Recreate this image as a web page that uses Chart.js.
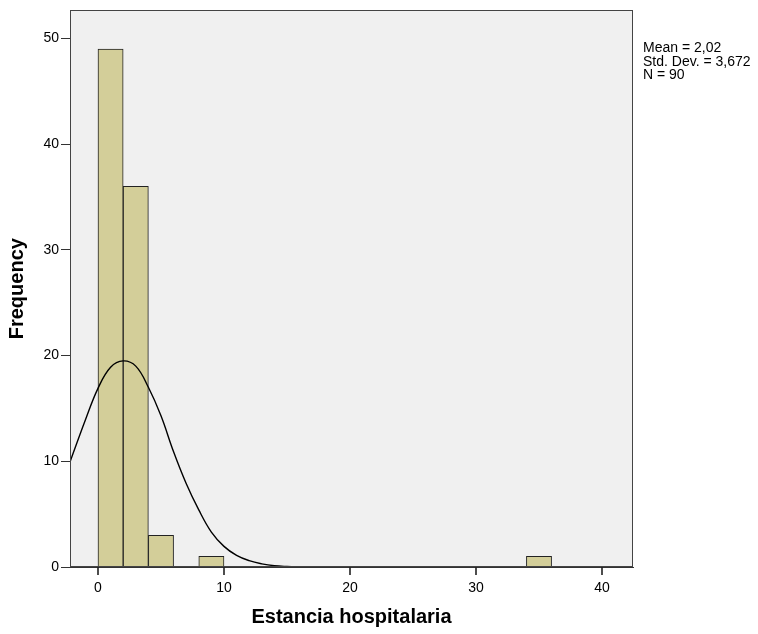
<!DOCTYPE html>
<html>
<head>
<meta charset="utf-8">
<script src="https://cdn.jsdelivr.net/npm/chart.js@4"></script>
<style>
html,body{margin:0;padding:0;background:#fff;}
#wrap{width:758px;height:634px;position:relative;}
</style>
</head>
<body>
<div id="wrap"><canvas id="c" width="758" height="634"></canvas></div>
<script>
// Histogram bins (centres, width 2) and frequencies
const binCenters = [1, 3, 5, 9, 35];
const frequencies = [49, 36, 3, 1, 1];
// Normal curve
const curveX = [-2.2, -1, 0, 1, 2, 3, 4, 5, 6, 7, 8, 9, 10, 11, 12, 13, 14, 15, 16, 17, 18, 20, 43];
const curveY = [10.0, 13.9, 16.9, 18.9, 19.5, 19.0, 17.0, 14.3, 10.9, 7.9, 5.4, 3.3, 1.95, 1.1, 0.6, 0.3, 0.12, 0.05, 0.02, 0.005, 0, 0, 0];
const xTicks = [0, 10, 20, 30, 40];
const yTicks = [0, 10, 20, 30, 40, 50];
const statsLines = ["Mean = 2,02", "Std. Dev. = 3,672", "N = 90"];
const xTitle = "Estancia hospitalaria";
const yTitle = "Frequency";

const FONT = "'Liberation Sans', Arial, sans-serif";

const plotDecor = {
  id: 'plotDecor',
  beforeDatasetsDraw(chart) {
    const {ctx, chartArea: a} = chart;
    ctx.save();
    ctx.fillStyle = '#F0F0F0';
    ctx.fillRect(a.left, a.top, a.right - a.left, a.bottom - a.top);
    ctx.restore();
  },
  afterDraw(chart) {
    const {ctx, chartArea: a} = chart;
    const xs = chart.scales.x;
    ctx.save();
    ctx.strokeStyle = '#444';
    ctx.lineWidth = 1;
    ctx.strokeRect(Math.round(a.left) + 0.5, Math.round(a.top) + 0.5, Math.round(a.right - a.left) - 1, Math.round(a.bottom - a.top) - 1);
    // x tick marks
    ctx.strokeStyle = '#222';
    ctx.lineWidth = 1.6;
    ctx.beginPath();
    xTicks.forEach(v => {
      const px = Math.round(xs.getPixelForValue(v));
      ctx.moveTo(px, a.bottom);
      ctx.lineTo(px, a.bottom + 8);
    });
    ctx.stroke();
    ctx.fillStyle = '#000';
    ctx.font = '14px ' + FONT;
    ctx.textBaseline = 'alphabetic';
    statsLines.forEach((t, i) => ctx.fillText(t, a.right + 10, 52 + i * 13.5));
    ctx.restore();
  }
};

new Chart(document.getElementById('c'), {
  type: 'bar',
  data: {
    datasets: [
      {
        type: 'line',
        data: curveX.map((x, i) => ({x, y: curveY[i]})),
        borderColor: '#000',
        borderWidth: 1.4,
        pointRadius: 0,
        tension: 0.4,
        fill: false,
        order: 0
      },
      {
        type: 'bar',
        data: binCenters.map((x, i) => ({x, y: frequencies[i]})),
        backgroundColor: '#D3CE99',
        borderColor: '#222',
        borderWidth: 1,
        barPercentage: 1,
        categoryPercentage: 1,
        order: 1
      }
    ]
  },
  options: {
    responsive: false,
    animation: false,
    events: [],
    layout: {padding: {left: 0, top: 7, right: 125, bottom: 0}},
    plugins: {legend: {display: false}, tooltip: {enabled: false}},
    scales: {
      x: {
        type: 'linear',
        offset: false,
        min: -2.22,
        max: 42.46,
        afterBuildTicks(s) { s.ticks = xTicks.map(v => ({value: v})); },
        afterFit(s) { s.height = 67; },
        grid: {display: false},
        border: {display: true, color: '#333'},
        ticks: {font: {family: FONT, size: 14}, color: '#000', padding: 5, maxRotation: 0},
        title: {display: true, text: xTitle, font: {family: FONT, size: 20, weight: 'bold'}, color: '#000', padding: {top: 0, bottom: 5}}
      },
      y: {
        type: 'linear',
        min: 0,
        max: 52.65,
        afterBuildTicks(s) { s.ticks = yTicks.map(v => ({value: v})); },
        afterFit(s) { s.width = 70; },
        grid: {display: true, drawOnChartArea: false, drawTicks: true, tickLength: 9, color: '#333'},
        border: {display: true, color: '#333'},
        ticks: {font: {family: FONT, size: 14}, color: '#000', padding: 2},
        title: {display: true, text: yTitle, font: {family: FONT, size: 20, weight: 'bold'}, color: '#000', padding: {top: 5, bottom: 0}}
      }
    }
  },
  plugins: [plotDecor]
});
</script>
</body>
</html>
